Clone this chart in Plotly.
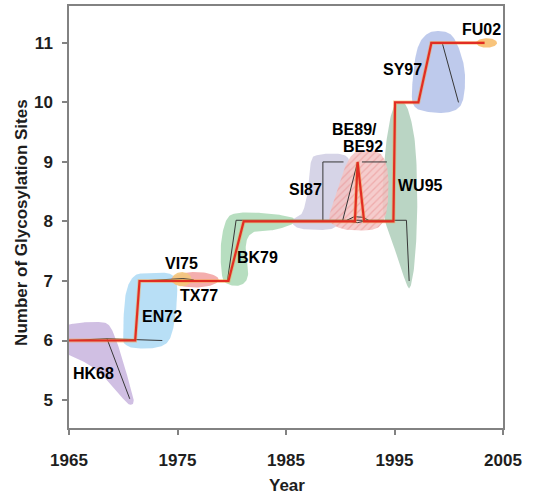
import numpy as np
import plotly.graph_objects as go

# ---------------- data ----------------
x_ticks = [1965, 1975, 1985, 1995, 2005]
y_ticks = [5, 6, 7, 8, 9, 10, 11]

# main (red) trajectory of glycosylation site counts
red_years = [1965, 1971.1, 1971.5, 1979.7, 1981.1, 1991.35, 1991.6, 1992.2, 1994.9, 1995.05, 1997.2, 1998.4, 2003.3]
red_sites = [6, 6, 7, 7, 8, 8, 9, 8, 8, 10, 10, 11, 11]

# thin black tree branches (year list, sites list)
branch_years = [
    [1965, 1968.5, 1973.6],
    [1968.5, 1970.6],
    [1971.5, 1974.0, 1975.5, 1976.5],
    [1979.6, 1980.4, 1996.1, 1996.35],
    [1988.4, 1988.4, 1990.3],
    [1990.2, 1991.6],
    [1992.0, 1994.3],
    [1990.6, 1991.3, 1992.1, 1992.6, 1991.6, 1990.9],
    [1998.3, 1999.4, 2000.9],
]
branch_sites = [
    [6.0, 6.03, 6.0],
    [6.03, 5.02],
    [7.0, 7.02, 7.04, 7.02],
    [7.0, 8.02, 8.02, 7.0],
    [8.0, 9.0, 9.0],
    [8.0, 9.0],
    [9.0, 9.0],
    [8.02, 8.08, 8.07, 8.02, 7.98, 8.0],
    [11.0, 11.0, 10.0],
]

# antigenic cluster names and label positions
cluster_names = ["HK68", "EN72", "VI75", "TX77", "BK79", "SI87", "BE89/", "BE92", "WU95", "SY97", "FU02"]
label_years = [1967.3, 1973.6, 1975.4, 1977.0, 1982.4, 1986.8, 1991.3, 1992.1, 1997.4, 1995.7, 2003.0]
label_sites = [5.45, 6.41, 7.29, 6.76, 7.40, 8.53, 9.54, 9.26, 8.61, 10.55, 11.23]

# cluster regions (outline vertices: year, sites)
hk68_outline = [(1964.8, 6.22), (1965.8, 6.29), (1967.3, 6.31), (1968.6, 6.27), (1969.4, 5.98), (1970.3, 5.45),
                (1970.95, 5.02), (1970.7, 4.92), (1970.1, 5.0), (1968.7, 5.3), (1966.8, 5.6), (1964.8, 5.8)]
en72_outline = [(1970.0, 6.05), (1970.2, 6.75), (1971.0, 7.08), (1972.5, 7.13), (1974.3, 7.12), (1974.95, 6.95),
                (1974.8, 6.4), (1974.2, 6.0), (1973.0, 5.88), (1971.2, 5.87), (1970.3, 5.92)]
bk79_outline = [(1979.1, 7.1), (1979.0, 7.6), (1979.5, 8.02), (1980.5, 8.14), (1983.0, 8.14), (1985.5, 8.07),
                (1985.7, 7.97), (1984.0, 7.86), (1982.0, 7.82), (1981.3, 7.6), (1981.5, 7.1), (1980.8, 6.93), (1979.6, 6.95)]
si87_outline = [(1985.6, 8.02), (1986.5, 8.15), (1987.0, 8.5), (1987.3, 9.0), (1988.0, 9.12), (1990.3, 9.12),
                (1990.9, 8.9), (1990.6, 8.2), (1989.5, 7.9), (1987.5, 7.86), (1986.0, 7.9)]
be_outline = [(1989.0, 8.05), (1989.5, 8.4), (1990.4, 8.9), (1991.3, 9.15), (1992.5, 9.2), (1993.8, 9.12),
              (1994.4, 8.8), (1994.3, 8.2), (1993.5, 7.9), (1991.5, 7.85), (1989.8, 7.9)]
wu95_outline = [(1995.4, 10.0), (1996.2, 9.9), (1996.9, 9.3), (1997.1, 8.3), (1996.9, 7.4), (1996.5, 6.92),
                (1996.1, 6.95), (1995.3, 7.4), (1994.3, 7.9), (1993.9, 8.3), (1994.1, 9.1), (1994.7, 9.8)]
sy97_outline = [(1996.6, 10.1), (1996.8, 10.6), (1997.2, 10.95), (1998.0, 11.15), (1999.2, 11.2), (2000.4, 11.1),
                (2001.3, 10.7), (2001.5, 10.3), (2001.1, 9.95), (1999.8, 9.83), (1997.8, 9.85), (1996.9, 9.92)]
# elliptical regions: (centre year, centre sites, half-width years, half-height sites)
tx77_ellipse = (1976.6, 7.02, 2.2, 0.13)
vi75_ellipse = (1975.4, 7.03, 0.9, 0.12)
fu02_ellipse = (2003.5, 11.0, 0.95, 0.08)


# ---------------- helpers ----------------
def smooth_closed(pts, n=16):
    p = np.array(pts, dtype=float)
    m = len(p)
    out = []
    for i in range(m):
        p0, p1, p2, p3 = p[(i - 1) % m], p[i], p[(i + 1) % m], p[(i + 2) % m]
        for t in np.linspace(0, 1, n, endpoint=False):
            t2, t3 = t * t, t * t * t
            out.append(0.5 * ((2 * p1) + (-p0 + p2) * t + (2 * p0 - 5 * p1 + 4 * p2 - p3) * t2
                              + (-p0 + 3 * p1 - 3 * p2 + p3) * t3))
    out.append(out[0])
    out = np.array(out)
    return out[:, 0], out[:, 1]


def ellipse(e, n=80):
    cx, cy, rx, ry = e
    t = np.linspace(0, 2 * np.pi, n)
    return cx + rx * np.cos(t), cy + ry * np.sin(t)


fig = go.Figure()


def add_region(xy, color, pattern=None):
    xs, ys = xy
    kw = {}
    if pattern:
        kw["fillpattern"] = pattern
    fig.add_trace(go.Scatter(x=xs, y=ys, mode="lines", fill="toself", fillcolor=color,
                             line=dict(width=0), hoverinfo="skip", showlegend=False, **kw))


add_region(smooth_closed(hk68_outline), "rgba(200,180,222,0.85)")
add_region(smooth_closed(en72_outline), "rgba(176,220,245,0.9)")
add_region(ellipse(tx77_ellipse), "rgba(242,160,160,0.85)")
add_region(ellipse(vi75_ellipse), "rgba(243,200,125,0.9)")
add_region(smooth_closed(bk79_outline), "rgba(175,218,185,0.9)")
add_region(smooth_closed(si87_outline), "rgba(210,207,228,0.9)")
add_region(smooth_closed(wu95_outline), "rgba(178,208,190,0.9)")
add_region(smooth_closed(be_outline), "rgba(244,195,195,0.85)",
           pattern=dict(shape="/", fgcolor="rgba(225,110,110,0.7)", bgcolor="rgba(244,195,195,0.85)",
                        size=5, solidity=0.25))
add_region(smooth_closed(sy97_outline), "rgba(183,196,234,0.9)")
add_region(ellipse(fu02_ellipse), "rgba(247,190,110,0.9)")

for bx, by in zip(branch_years, branch_sites):
    fig.add_trace(go.Scatter(x=bx, y=by, mode="lines", line=dict(color="rgb(55,55,55)", width=1),
                             hoverinfo="skip", showlegend=False))

fig.add_trace(go.Scatter(x=red_years, y=red_sites, mode="lines",
                         line=dict(color="rgba(245,160,70,0.5)", width=3.8),
                         hoverinfo="skip", showlegend=False))
fig.add_trace(go.Scatter(x=red_years, y=red_sites, mode="lines",
                         line=dict(color="rgb(226,45,35)", width=2.2),
                         hoverinfo="skip", showlegend=False))

for name, lx, ly in zip(cluster_names, label_years, label_sites):
    fig.add_annotation(x=lx, y=ly, text=name, showarrow=False, xanchor="center", yanchor="middle",
                       borderpad=0,
                       font=dict(family="Liberation Sans, Arial", size=16, color="black", weight="bold"))

axis_font = dict(family="Liberation Sans, Arial", size=17, color="rgb(30,30,30)", weight="bold")

fig.add_annotation(text="Year", xref="paper", yref="paper", x=0.502, y=-0.137, showarrow=False,
                   xanchor="center", yanchor="middle",
                   font=dict(family="Liberation Sans, Arial", size=17, color="rgb(30,30,30)", weight="bold"))
fig.add_annotation(text="Number of Glycosylation Sites", xref="paper", yref="paper", x=-0.111, y=0.488,
                   textangle=-90, showarrow=False, xanchor="center", yanchor="middle",
                   font=dict(family="Liberation Sans, Arial", size=17, color="rgb(30,30,30)", weight="bold"))

fig.update_layout(
    width=535, height=497,
    margin=dict(l=69, r=32, t=6, b=69, autoexpand=False),
    paper_bgcolor="white", plot_bgcolor="white",
    showlegend=False,
    xaxis=dict(range=[1965, 2005], tickvals=x_ticks, ticktext=[str(v) for v in x_ticks],
               showgrid=False, zeroline=False, showline=True, linecolor="rgb(130,130,130)", linewidth=1.5,
               mirror=True, ticks="outside", ticklen=5, tickcolor="rgb(130,130,130)", tickwidth=1.5,
               tickfont=axis_font, ticklabelstandoff=11, automargin=False),
    yaxis=dict(range=[4.53, 11.62], tickvals=y_ticks, ticktext=[str(v) for v in y_ticks],
               showgrid=False, zeroline=False, showline=True, linecolor="rgb(130,130,130)", linewidth=1.5,
               mirror=True, ticks="outside", ticklen=5, tickcolor="rgb(130,130,130)", tickwidth=1.5,
               tickfont=axis_font, ticklabelstandoff=6, automargin=False),
)

fig.write_html("out.html", config={"displayModeBar": False},
               post_script="document.body.style.margin='0';document.body.style.overflow='hidden';")
